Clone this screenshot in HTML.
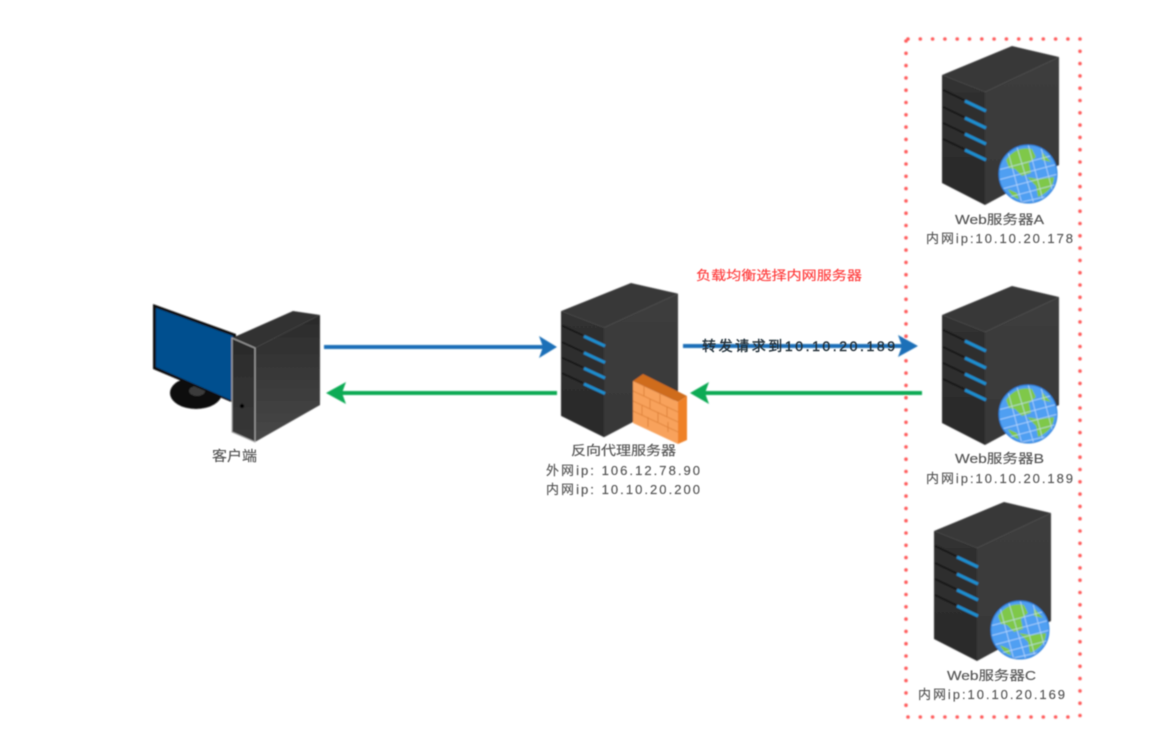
<!DOCTYPE html>
<html lang="zh"><head><meta charset="utf-8"><style>
html,body{margin:0;padding:0;background:#fff;width:1157px;height:741px;overflow:hidden}
svg{display:block}
text{font-family:"Liberation Sans","Noto Sans CJK SC",sans-serif;font-size:13px;fill:#555;stroke:#666;stroke-width:.2}
</style></head><body>
<svg width="1157" height="741" viewBox="0 0 1157 741" xmlns="http://www.w3.org/2000/svg">
<defs>
<filter id="b" x="-5%" y="-5%" width="110%" height="110%"><feGaussianBlur stdDeviation="0.8"/></filter>
<filter id="t" x="-5%" y="-20%" width="110%" height="140%"><feGaussianBlur stdDeviation="0.5"/></filter>
<clipPath id="gc"><circle r="28.5"/></clipPath>
<linearGradient id="side" x1="0" y1="0" x2="0" y2="1"><stop offset="0" stop-color="#3c3c3c"/><stop offset="1" stop-color="#383838"/></linearGradient>
<linearGradient id="front" x1="0" y1="0" x2="0" y2="1"><stop offset="0" stop-color="#303030"/><stop offset="1" stop-color="#2a2a2a"/></linearGradient>
<linearGradient id="tw" x1="0" y1="0" x2="0" y2="1"><stop offset="0" stop-color="#2a2a2a"/><stop offset="1" stop-color="#484848"/></linearGradient>
<linearGradient id="tf" x1="0" y1="0" x2="0" y2="1"><stop offset="0" stop-color="#2a2a2a"/><stop offset="1" stop-color="#383838"/></linearGradient>
<g id="srv">
<polygon points="0,29 70,0 117,11 43,46" fill="#393939"/>
<polygon points="0,29 43,46 43,159 0,137" fill="url(#front)"/>
<polygon points="43,46 117,11 117,119 43,159" fill="url(#side)"/>
<g fill="none">
<path d="M1 44L22 54M1 61L22 71M1 77L22 87M1 93L22 103" stroke="#141414" stroke-width="1.8"/>
<path d="M23 55L44 65M23 72L44 82M23 88L44 98M23 104L44 114" stroke="#1a8fd0" stroke-width="3"/>
</g>
</g>
<g id="globe">
<circle r="29" fill="#4f9ff2"/>
<g clip-path="url(#gc)">
<path d="M-22-14C-15-25-4-27 4-25L8-17 1-11 3-1-6 2-13-5-19-6ZM-1 3L11 5 26 3C26 13 18 20 10 23L8 12ZM-20 15L-11 19-9 25C-14 24-18 20-20 15ZM14-22L23-12 14-14Z" fill="#7fc84a"/>
<g stroke="#cfe6ff" stroke-width="0.7" fill="none" opacity=".85">
<path d="M-30-4L30-20M-30 6L30-10M-30 16L30 0M-30 26L30 10M-20 31L30 20"/>
<path d="M-22-30L-6 30M-12-30L6 30M0-30L16 30M12-30L28 30"/>
</g>
</g>
<circle r="29" fill="none" stroke="#2b7fd8" stroke-width="1"/>
</g>
</defs>

<g filter="url(#b)">
<!-- dotted box -->
<g stroke="#ff5c5c" stroke-width="3.6" stroke-linecap="round" stroke-dasharray="0 12.3" fill="none">
<path d="M908 39H1080"/><path d="M908 717H1080"/><path d="M906 41V717"/><path d="M1080 39V717"/>
</g>

<!-- client PC -->
<ellipse cx="196" cy="393" rx="26" ry="16" fill="#0e0e0e"/>
<ellipse cx="197" cy="391" rx="8" ry="5" fill="#3a3a3a"/>
<polygon points="153,304 236,334 236,404 153,369" fill="#111"/>
<polygon points="156,308 233,336 233,401 156,367" fill="#03508f"/>
<polygon points="232,338 293,311 320,315 255,348" fill="#333"/>
<polygon points="255,348 320,315 320,405 255,442" fill="url(#tw)"/>
<polygon points="232,338 255,348 255,442 232,432" fill="url(#tf)" stroke="#aaa" stroke-width="1"/>
<circle cx="242" cy="406" r="2.2" fill="#000"/>

<!-- proxy server -->
<use href="#srv" transform="translate(561,283) scale(1,0.97)"/>
<polygon points="633,381 643,374 687,396 678,402" fill="#cf6c1e"/>
<polygon points="633,381 678,402 678,444 633,423" fill="#f8a25c"/>
<polygon points="678,402 687,396 687,440 678,444" fill="#ef8128"/>
<g stroke="#dd8038" stroke-width="0.9" fill="none">
<path d="M633 391L678 412M633 401L678 422M633 411L678 432"/>
<path d="M644 386V396M660 394V404M650 399V409M667 407V417M642 405V415M658 412V422M648 417V427M668 422V432"/>
</g>

<!-- web servers -->
<use href="#srv" x="942" y="46"/>
<use href="#srv" x="942" y="286"/>
<use href="#srv" x="934" y="502"/>
<use href="#globe" x="1028" y="174"/>
<use href="#globe" x="1028" y="414"/>
<use href="#globe" x="1020" y="630"/>

<!-- arrows -->
<g fill="none" stroke-width="4">
<path d="M324 347H546" stroke="#1a70b8"/>
<path d="M338 393H557" stroke="#0cab54"/>
<path d="M683 346H906" stroke="#1a70b8"/>
<path d="M702 393H922" stroke="#0cab54"/>
</g>
<polygon points="557,347 539,336 543,347 539,358" fill="#1a70b8"/>
<polygon points="326,393 346,382 342,393 346,404" fill="#0cab54"/>
<polygon points="918,346 898,335 902,346 898,357" fill="#1a70b8"/>
<polygon points="690,393 709,382 705,393 709,404" fill="#0cab54"/>
</g>

<g filter="url(#t)">
<text x="212" y="461" textLength="45" lengthAdjust="spacingAndGlyphs" style="font-size:14px">客户端</text>
<text x="571" y="455" textLength="105" lengthAdjust="spacingAndGlyphs">反向代理服务器</text>
<text x="546" y="475" textLength="154" lengthAdjust="spacing">外网ip: 106.12.78.90</text>
<text x="546" y="494" textLength="154" lengthAdjust="spacing">内网ip: 10.10.20.200</text>
<text x="696" y="280" textLength="166" lengthAdjust="spacingAndGlyphs" style="fill:#ff3b3b;stroke:#ff5050">负载均衡选择内网服务器</text>
<text x="702" y="351" textLength="193" lengthAdjust="spacing" style="fill:#22303a;stroke:#22303a;stroke-width:.4;font-size:14px">转发请求到10.10.20.189</text>
<text x="955" y="224" textLength="89" lengthAdjust="spacingAndGlyphs">Web服务器A</text>
<text x="926" y="243" textLength="147" lengthAdjust="spacing">内网ip:10.10.20.178</text>
<text x="955" y="463" textLength="89" lengthAdjust="spacingAndGlyphs">Web服务器B</text>
<text x="926" y="483" textLength="147" lengthAdjust="spacing">内网ip:10.10.20.189</text>
<text x="947" y="680" textLength="89" lengthAdjust="spacingAndGlyphs">Web服务器C</text>
<text x="918" y="699" textLength="147" lengthAdjust="spacing">内网ip:10.10.20.169</text>
</g>
</svg>
</body></html>
